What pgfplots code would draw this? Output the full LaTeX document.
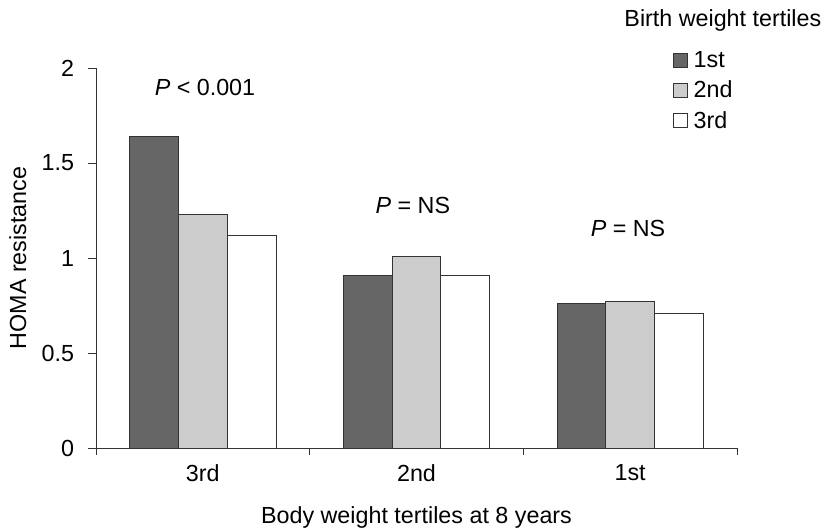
\documentclass[border=0pt]{standalone}
\usepackage{fontspec}
\setmainfont{Liberation Sans}
\usepackage{pgfplots}
\pgfplotsset{compat=1.18}
\definecolor{barDark}{HTML}{666666}
\definecolor{barLight}{HTML}{CCCCCC}
\definecolor{edge}{HTML}{333333}
\newcommand{\fs}{\fontsize{23.3pt}{27pt}\selectfont}
\begin{document}
\fs
\begin{tikzpicture}
\useasboundingbox (-96pt,-82pt) rectangle (734pt,448pt);
\begin{axis}[
  at={(0pt,0pt)}, anchor=south west,
  scale only axis, width=641pt, height=380pt,
  xmin=0, xmax=3, ymin=0, ymax=2,
  axis lines=left, axis line style={edge, line width=0.8pt, -},
  clip=false,
  ybar=0pt, bar width=0.228,
  xtick={0.5,1.5,2.5}, xticklabels={3rd,2nd,1st},
  major x tick style={draw=none},
  minor xtick={0,1,2,3},
  minor x tick style={edge, line width=0.8pt},
  minor tick length=7pt,
  ytick={0,0.5,1,1.5,2},
  yticklabels={0,0.5,1,1.5,2},
  y tick style={edge, line width=0.8pt},
  major tick length=8pt,
  tick align=outside,
  xtick pos=left, ytick pos=left,
  yticklabel style={xshift=-6pt},
  xticklabel style={yshift=-1pt},
  /pgf/number format/assume math mode=true,
  ticklabel style={font=\fs},
  xlabel={Body weight tertiles at 8 years},
  ylabel={HOMA resistance},
  xlabel style={at={(axis description cs:0.5,-0.183)}, anchor=center, font=\fs},
  ylabel style={at={(axis description cs:-0.122,0.5)}, anchor=center, rotate=0, font=\fs},
  legend style={at={(axis description cs:0.8997,1.049)}, anchor=north west, draw=none, fill=none,
    font=\fs, row sep=6pt, column sep=4pt, inner sep=0pt,
    nodes={inner sep=2pt}},
  legend cell align=left,
  legend image code/.code={\draw[#1, draw=edge, line width=0.8pt] (0pt,-6pt) rectangle (14pt,8pt);},
]
\addplot[fill=barDark, draw=edge, line width=0.8pt] coordinates {(0.5,1.64) (1.5,0.91) (2.5,0.76)};
\addplot[fill=barLight, draw=edge, line width=0.8pt] coordinates {(0.5,1.23) (1.5,1.01) (2.5,0.77)};
\addplot[fill=white, draw=edge, line width=0.8pt] coordinates {(0.5,1.12) (1.5,0.91) (2.5,0.71)};
\legend{1st,2nd,3rd}
\node at (axis cs:0.51,1.9) {\textit{P} < 0.001};
\node at (axis cs:1.483,1.279) {\textit{P} = NS};
\node at (axis cs:2.49,1.153) {\textit{P} = NS};
\node at (axis description cs:0.978,1.124) {Birth weight tertiles};
\end{axis}
\end{tikzpicture}
\end{document}
